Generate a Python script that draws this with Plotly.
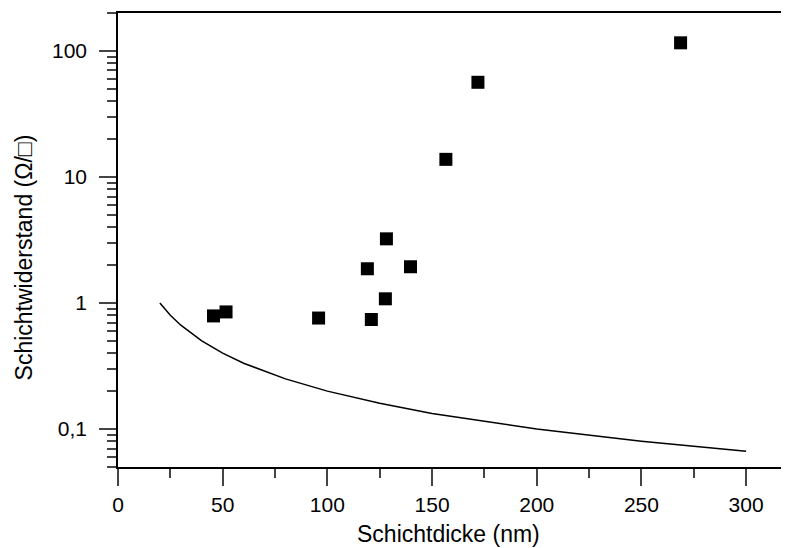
import plotly.graph_objects as go

# measured data (squares)
thickness_nm = [45.6, 51.6, 95.8, 119.1, 121.0, 127.7, 128.2, 139.7, 156.6, 171.9, 268.7]
sheet_res = [0.79, 0.85, 0.76, 1.87, 0.74, 1.08, 3.23, 1.94, 13.8, 56.4, 116.0]

# reference curve
curve_x = [20, 25, 30, 40, 50, 60, 80, 100, 125, 150, 200, 250, 300]
curve_y = [1.0, 0.8, 0.667, 0.5, 0.4, 0.333, 0.25, 0.2, 0.16, 0.133, 0.1, 0.08, 0.0667]

x_ticks = [0, 50, 100, 150, 200, 250, 300]
y_ticks = [0.1, 1, 10, 100]
y_ticktext = ["0,1", "1", "10", "100"]

fig = go.Figure()
fig.add_trace(go.Scatter(x=curve_x, y=curve_y, mode="lines",
                         line=dict(color="black", width=1.5), showlegend=False))
fig.add_trace(go.Scatter(x=thickness_nm, y=sheet_res, mode="markers",
                         marker=dict(symbol="square", size=13, color="black",
                                     line=dict(width=0)), showlegend=False))

font = "Liberation Sans, Arial, sans-serif"
fig.update_layout(
    width=781, height=540,
    margin=dict(l=110, r=1, t=5, b=81),
    paper_bgcolor="white", plot_bgcolor="white",
    font=dict(family=font, size=21, color="black"),
    xaxis=dict(range=[0, 320], tickvals=x_ticks, ticks="outside", ticklen=17,
               tickwidth=1.5, showline=True, linewidth=1.5, linecolor="black",
               mirror=True, showgrid=False, zeroline=False,
               minor=dict(dtick=25, ticks="outside", ticklen=9, tickwidth=1.5,
                          showgrid=False),
               tickfont=dict(size=21), ticklabelstandoff=1),
    yaxis=dict(type="log", range=[-1.30103, 2.30103], tickvals=y_ticks,
               ticktext=y_ticktext, ticks="outside", ticklen=17, tickwidth=1.5,
               showline=True, linewidth=1.5, linecolor="black", showgrid=False,
               zeroline=False,
               minor=dict(dtick="D1", ticks="outside", ticklen=9, tickwidth=1.5,
                          showgrid=False),
               tickfont=dict(size=21), ticklabelstandoff=8),
    annotations=[
        dict(text="Schichtdicke (nm)", xref="paper", yref="paper", x=0.494,
             y=-0.148, xanchor="center", yanchor="middle", showarrow=False,
             font=dict(size=23)),
        dict(text="Schichtwiderstand (Ω/□)", xref="paper", yref="paper",
             x=-0.140, y=0.462, xanchor="center", yanchor="middle",
             textangle=-90, showarrow=False, font=dict(size=23)),
    ],
)
fig.write_html("out.html")
